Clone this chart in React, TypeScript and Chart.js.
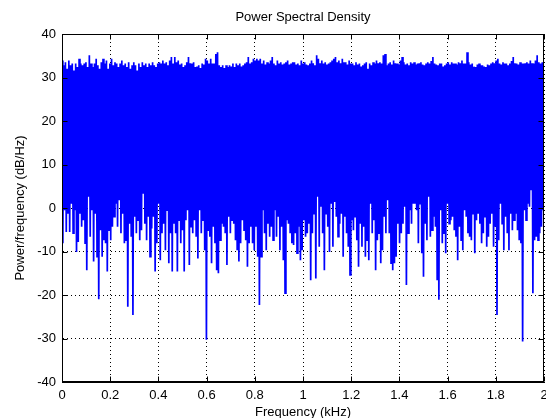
import React, { useEffect, useRef } from "react";
import { Chart, registerables } from "chart.js";

Chart.register(...registerables);

const chartTitle = "Power Spectral Density";
const xAxisTitle = "Frequency (kHz)";
const yAxisTitle = "Power/frequency (dB/Hz)";
const xTicks = [0, 0.2, 0.4, 0.6, 0.8, 1, 1.2, 1.4, 1.6, 1.8, 2];
const yTicks = [-40, -30, -20, -10, 0, 10, 20, 30, 40];
const freqMaxKHz = 2;

// lower envelope of the noisy PSD trace (dB/Hz), left to right
const troughsDb = [
  -8.1, -0.5, -5.5, -1.3, -5.5, 1.0, -5.8, -0.5, -10.1, -7.8,
  -1.3, -4.3, -2.8, -8.1, -14.3, 2.6, -6.6, -0.5, -12.3, -1.3,
  -11.2, -21.0, -5.1, -11.2, -7.4, -8.1, -14.6, -5.1, -7.4, -4.3,
  -2.0, 1.0, -4.3, 1.8, -5.8, -1.3, -8.1, -7.4, -22.7, -3.6,
  -6.6, -24.6, -2.0, -5.8, -2.8, -7.4, -5.1, 3.3, -3.6, -7.4,
  -2.0, -11.2, -4.7, -2.0, -14.6, -8.1, 1.0, -12.0, -5.8, -3.6,
  -9.7, -0.5, -12.7, -5.8, -14.6, -3.6,
  -5.8, -14.6, -2.8, -8.1, -5.1, -14.6, -2.8, -0.5, -13.1, -4.3,
  -5.8, -2.8, -6.6, -11.6, -0.5, -5.8, -2.8, -9.7, -30.3, -5.1,
  -6.6, -12.7, -4.3, -8.1, -14.3, -15.0, -7.4, -3.6, -4.3, -5.8,
  -13.1, -2.0, -5.8, -2.8, -3.6, -7.4, -9.7, -12.3, -8.1, -2.8,
  -5.1, -7.4, -13.5, -8.1, -4.3, -8.1, -9.7, -4.3, -11.2, -22.3,
  -11.2, -0.5, -5.8, -9.7, -3.6, -6.6, -4.3, -7.4, -0.5, -6.6,
  -2.0, -9.7, -4.3, -12.0, -19.6, -2.8, -3.6, -5.8, -8.1, -8.5,
  -5.8, -10.4, -4.3, -12.0, -9.7, -2.8, -6.6, -5.8, -3.6, -16.6,
  -5.8, -1.3, -16.2, 2.6, -8.9, 0.3, -5.8, -14.3, -1.3, -4.3,
  -10.1, 1.0, -8.9, 1.4, -2.0, -6.6, -3.6, -1.3, -11.2, -2.0,
  -5.8, -8.9, -15.4, -2.8, -5.1, -2.0, -7.4, -13.5, -3.6, -8.9,
  -4.3, -11.2, -7.4, -12.0, 1.0, -5.8, -2.8, -14.3, -7.4, -5.8,
  -12.7, -9.7, -2.0, -5.8, 1.8, -5.8, -12.7, -14.3, -12.7, -11.2,
  -3.6, -8.1, -5.8, -3.6, 0.3, -17.7, -5.8, -0.5, -3.6, 1.0,
  1.0, -0.5, -8.1, 1.0, -10.4, -15.8, -3.6, -7.4, 2.6, -6.6,
  -5.1, -2.0, -4.3, -16.6, -21.1, -0.5, -8.1, -5.8, -10.4, 1.0,
  -3.6, -2.8, -2.0, -5.1, -6.6, -12.0, -4.3, -7.4, -9.7, -0.5,
  -2.0, -5.8, -6.6, -7.4, -1.3, -10.4, -2.8, -1.3, -3.6, -8.1,
  -5.8, -2.0, -8.9, -6.6, -3.6, -1.3, -8.9, -4.3, -24.6, -7.4,
  1.0, -3.6, -9.7, -2.0, -5.8, -9.7, -1.3, -5.1, -2.8, -1.3,
  -5.1, -7.4, -8.1, -30.7, -0.5, -2.8, 1.0, 0.3, 4.1, -19.6,
  -7.4, -6.6, -7.4, -5.8, -4.3, -0.5,
];

// upper envelope of the noisy PSD trace (dB/Hz), left to right
const peaksDb = [
  33.9, 32.8, 33.5, 32.0, 33.9, 32.8, 33.2, 31.6, 33.2, 32.4,
  34.3, 33.2, 32.8, 33.2, 33.5, 32.4, 35.1, 33.2, 32.4, 33.2,
  34.3, 32.8, 32.0, 33.5, 34.3, 33.2, 33.9, 32.0, 33.2, 34.3,
  32.8, 33.5, 33.2, 32.4, 33.2, 33.9, 32.8, 33.2, 32.4, 33.5,
  32.0, 32.8, 33.5, 32.8, 31.6, 33.2, 32.4, 33.5, 32.8, 33.2,
  32.4, 33.2, 32.8, 33.5, 32.8, 32.4, 33.2, 33.5, 33.2, 33.9,
  33.2, 33.5, 32.8, 33.9, 34.7, 33.2,
  34.7, 33.5, 33.9, 33.0, 33.2, 32.4, 32.8, 33.5, 34.7, 33.3,
  33.2, 33.5, 32.4, 32.5, 32.8, 32.2, 33.2, 33.0, 34.3, 33.9,
  33.2, 34.3, 33.2, 33.2, 35.4, 35.8, 32.8, 32.4, 32.8, 32.2,
  32.8, 32.4, 32.8, 32.5, 33.2, 32.4, 33.2, 32.8, 33.2, 32.5,
  32.8, 33.2, 33.5, 34.7, 33.2, 33.5, 34.3, 33.9, 34.3, 33.9,
  34.3, 33.2, 33.9, 33.0, 33.5, 33.2, 33.9, 34.7, 33.2, 32.8,
  33.9, 33.2, 33.5, 33.0, 33.2, 33.5, 33.9, 33.0, 33.2, 33.5,
  33.5, 33.0, 33.2, 32.8, 33.9, 33.2, 33.5, 33.0, 32.8, 33.2,
  33.9, 33.3, 32.8, 35.1, 34.3, 33.3, 33.9, 33.2, 33.5, 33.0,
  33.2, 33.5, 33.9, 34.3, 34.7, 33.5, 33.9, 33.3, 34.3, 33.5,
  33.5, 33.0, 33.9, 33.2, 33.2, 32.8, 33.5, 33.0, 33.2, 32.5,
  32.8, 33.2, 33.5, 32.0, 33.2, 32.8, 33.5, 33.2, 33.9, 33.3,
  33.5, 33.2, 35.1, 35.4, 32.8, 33.2, 33.5, 33.0, 33.9, 33.3,
  33.2, 33.0, 33.9, 34.7, 33.5, 33.0, 33.2, 32.8, 33.5, 33.2,
  33.5, 33.0, 33.2, 33.3, 33.5, 33.0, 32.8, 33.2, 33.5, 33.2,
  33.8, 34.7, 33.2, 33.0, 32.8, 33.2, 33.2, 32.5, 32.8, 33.2,
  33.5, 33.0, 33.5, 33.2, 33.2, 33.0, 33.5, 33.3, 33.9, 33.2,
  33.2, 35.8, 33.5, 33.0, 33.2, 32.5, 32.4, 33.0, 33.2, 32.8,
  32.8, 32.5, 32.4, 33.0, 32.8, 33.2, 33.5, 33.3, 33.9, 34.3,
  33.2, 33.0, 33.5, 33.2, 33.2, 32.8, 33.2, 33.8, 34.7, 33.3,
  33.2, 33.0, 33.5, 33.2, 33.2, 33.3, 33.5, 33.2, 33.9, 33.3,
  33.2, 33.9, 35.1, 33.5, 33.2, 33.5,
];

const FONT = "'Liberation Sans', Arial, sans-serif";

export default function App() {
  const ref = useRef<HTMLCanvasElement>(null);

  useEffect(() => {
    const canvas = ref.current;
    if (!canvas) return;
    const n = Math.min(troughsDb.length, peaksDb.length);
    const step = freqMaxKHz / n;
    const points: { x: number; y: number }[] = [];
    for (let i = 0; i < n; i++) {
      points.push({ x: i * step, y: peaksDb[i] });
      points.push({ x: (i + 0.5) * step, y: troughsDb[i] });
    }

    const framePlugin = {
      id: "matlabFrame",
      afterDatasetsDraw(chart: any) {
        const { ctx, chartArea: a, scales } = chart;
        ctx.save();
        ctx.strokeStyle = "#000";
        ctx.lineWidth = 1;
        const l = Math.round(a.left) + 0.5;
        const t = Math.round(a.top) + 0.5;
        const r = Math.round(a.right) - 0.5;
        const b = Math.round(a.bottom) - 0.5;
        ctx.strokeRect(l, t, r - l, b - t);
        ctx.beginPath();
        for (const v of xTicks) {
          const x = Math.round(scales.x.getPixelForValue(v)) + 0.5;
          ctx.moveTo(x, b);
          ctx.lineTo(x, b - 5);
          ctx.moveTo(x, t);
          ctx.lineTo(x, t + 5);
        }
        for (const v of yTicks) {
          const y = Math.round(scales.y.getPixelForValue(v)) + 0.5;
          ctx.moveTo(l, y);
          ctx.lineTo(l + 5, y);
          ctx.moveTo(r, y);
          ctx.lineTo(r - 5, y);
        }
        ctx.stroke();
        ctx.fillStyle = "#000";
        ctx.font = `13px ${FONT}`;
        ctx.textAlign = "center";
        ctx.textBaseline = "middle";
        ctx.fillText(chartTitle, (a.left + a.right) / 2, 17);
        ctx.restore();
      },
    };

    const chart = new Chart(canvas, {
      type: "line",
      data: {
        datasets: [
          {
            data: points,
            borderColor: "#0000ff",
            borderWidth: 1.7,
            pointRadius: 0,
            tension: 0,
            fill: false,
          },
        ],
      },
      options: {
        animation: false,
        responsive: false,
        events: [],
        layout: { padding: { top: 34, right: 2, left: 0, bottom: 0 } },
        plugins: {
          legend: { display: false },
          tooltip: { enabled: false },
          title: { display: false },
        },
        scales: {
          x: {
            type: "linear",
            min: 0,
            max: freqMaxKHz,
            afterBuildTicks: (s: any) => {
              s.ticks = xTicks.map((v) => ({ value: v }));
            },
            afterFit: (s: any) => {
              s.height = 36;
              s.paddingLeft = 0;
              s.paddingRight = 0;
            },
            ticks: {
              color: "#000",
              font: { family: FONT, size: 13 },
              padding: 6,
              maxRotation: 0,
              autoSkip: false,
              callback: (v: any) => String(Number(Number(v).toFixed(1))),
            },
            grid: { color: "#000", lineWidth: 1, drawTicks: false },
            border: { display: true, color: "#000", width: 1, dash: [1, 3] },
            title: {
              display: true,
              text: xAxisTitle,
              color: "#000",
              font: { family: FONT, size: 13 },
              padding: { top: 0, bottom: -2 },
            },
          },
          y: {
            type: "linear",
            min: -40,
            max: 40,
            afterBuildTicks: (s: any) => {
              s.ticks = yTicks.map((v) => ({ value: v }));
            },
            afterFit: (s: any) => {
              s.width = 62;
              s.paddingTop = 0;
              s.paddingBottom = 0;
            },
            ticks: {
              color: "#000",
              font: { family: FONT, size: 13 },
              padding: 6,
              autoSkip: false,
            },
            grid: { color: "#000", lineWidth: 1, drawTicks: false },
            border: { display: true, color: "#000", width: 1, dash: [1, 3] },
            title: {
              display: true,
              text: yAxisTitle,
              color: "#000",
              font: { family: FONT, size: 13 },
              padding: { top: 13, bottom: 0 },
            },
          },
        },
      },
      plugins: [framePlugin],
    });

    return () => chart.destroy();
  }, []);

  return (
    <div style={{ position: "fixed", left: 0, top: 0, width: 546, height: 418, background: "#fff" }}>
      <canvas ref={ref} width={546} height={418} style={{ width: 546, height: 418 }} />
    </div>
  );
}
